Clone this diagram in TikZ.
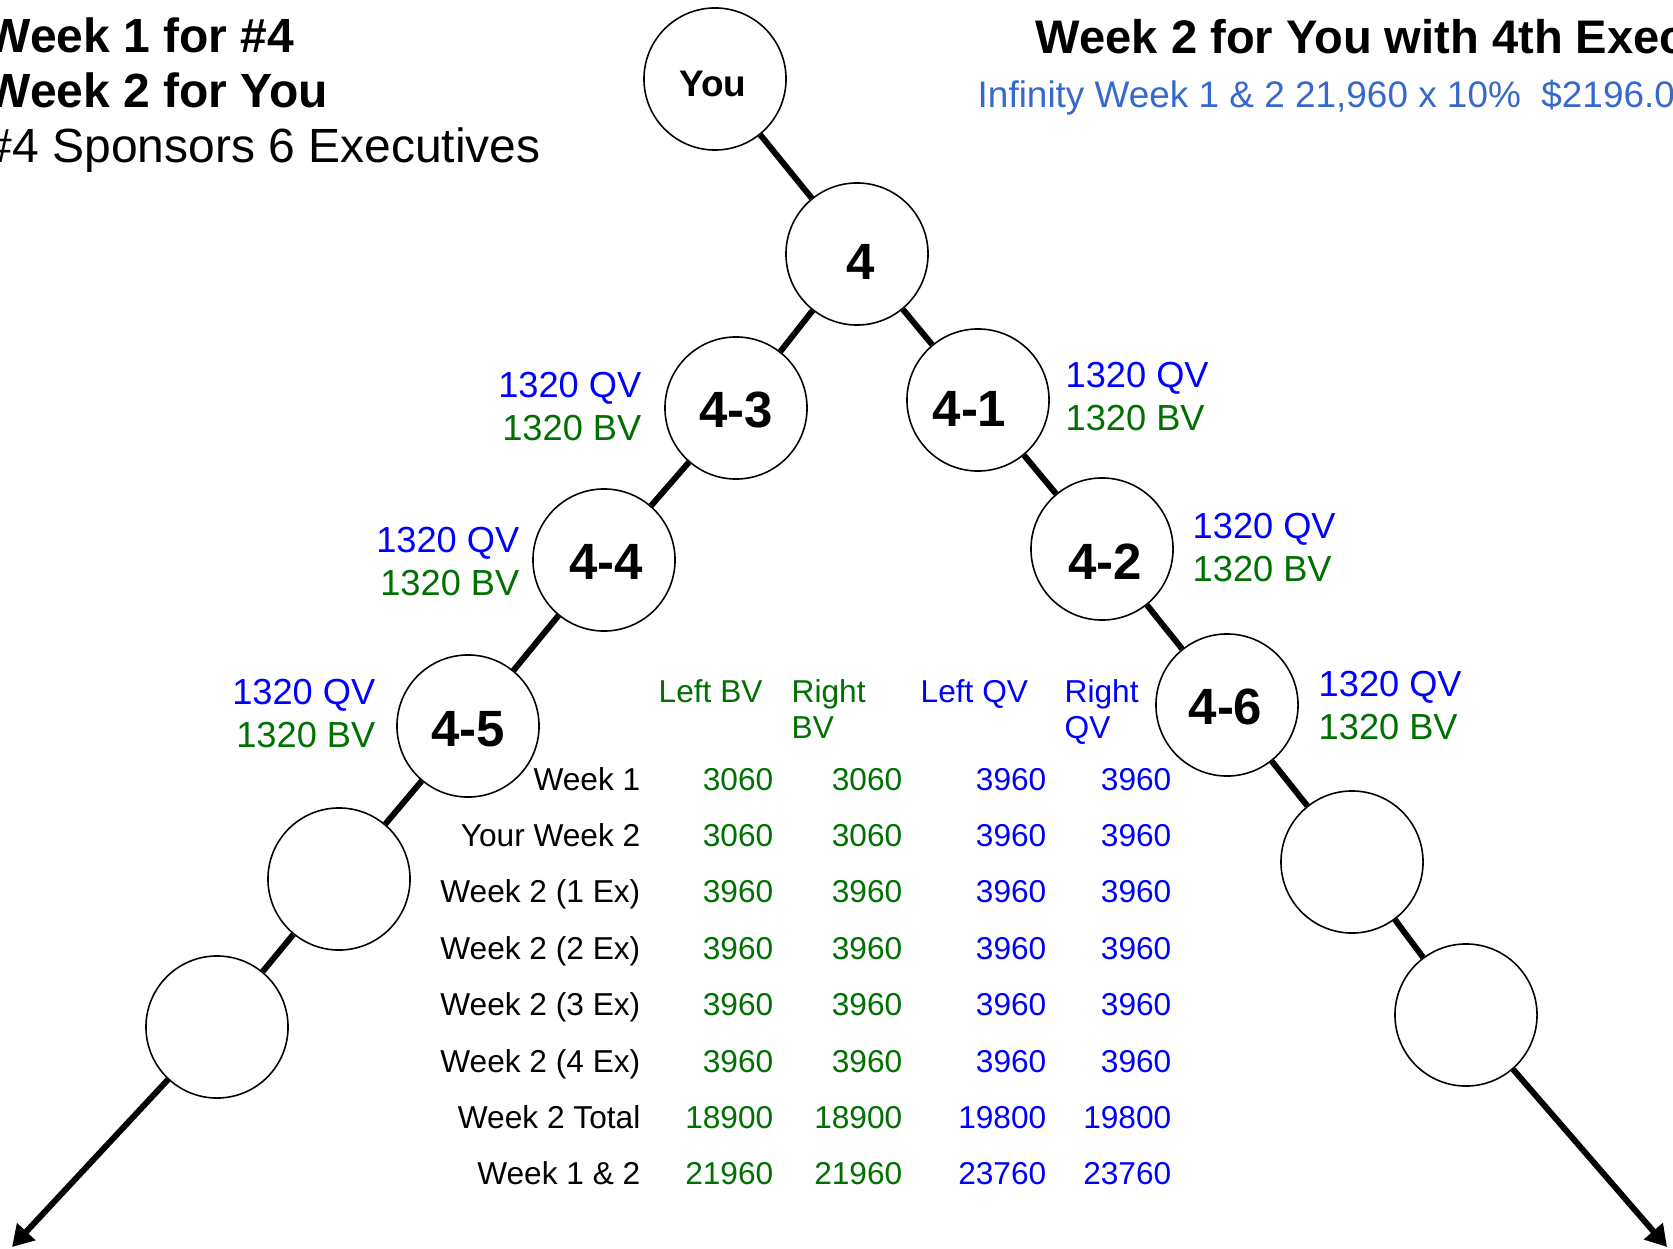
\documentclass[tikz,border=0pt]{standalone}
\usepackage{fontspec}
\setmainfont{Liberation Sans}
\usetikzlibrary{arrows.meta}
\definecolor{qvblue}{RGB}{0,0,255}
\definecolor{bvgreen}{RGB}{0,112,0}
\definecolor{infblue}{RGB}{55,105,205}
\newcommand{\fs}[1]{\fontsize{#1}{#1}\selectfont}

\begin{document}
\begin{tikzpicture}[x=0.01cm,y=-0.01cm,
        member/.style={circle,draw,line width=0.45pt,minimum size=1.42cm,inner sep=0pt},
        tag/.style={inner sep=0pt,font=\bfseries\fs{14.5}},
        tagged/.style n args={3}{member,label={[tag,xshift=#1,yshift=#2]center:#3}},
        link/.style={line width=1.7pt},
        txt/.style={inner sep=0pt,font=\fontsize{9}{10.2}\selectfont},
        vol/.style={inner sep=0pt,font=\fs{10.3}},
        head/.style={inner sep=0pt,anchor=base west,font=\bfseries\fs{13.65}}]

            \fill[white] (0,0) rectangle (1673,1249);
            \useasboundingbox (0,0) rectangle (1673,1249);
            \clip (0,0) rectangle (1673,1249);

            \node[head] (h1) at (-15,53) {Week 1 for \#4};
            \node[head] (h2) at (-15,108) {Week 2 for You};
            \node[head,font=\fs{13.65}] (h3) at (-15,163) {\#4 Sponsors 6 Executives};
            \node[head,font=\bfseries\fs{13.4}] (h4) at (1035,54) {Week 2 for You with 4th Executive};
            \node[head,font=\fs{10.5},text=infblue] (inf) at (977,108) {Infinity Week 1 \& 2 21,960 x 10\%\ \ \$2196.00};

            \node[member,label={[tag,font=\bfseries\fs{10.5},xshift=-0.02cm,yshift=-0.05cm]center:You}] (you) at (715,79) {};
            \node[tagged={0.04cm}{-0.075cm}{4}] (n4) at (857,254) {};
            \node[tagged={0cm}{-0.02cm}{4-3}] (n43) at (736,408) {};
            \node[tagged={-0.085cm}{-0.085cm}{4-1}] (n41) at (978,400) {};
            \node[tagged={0.02cm}{-0.02cm}{4-4}] (n44) at (604,560) {};
            \node[tagged={0.03cm}{-0.13cm}{4-2}] (n42) at (1102,549) {};
            \node[tagged={0cm}{-0.03cm}{4-5}] (n45) at (468,726) {};
            \node[tagged={-0.015cm}{-0.02cm}{4-6}] (n46) at (1227,705) {};
            \node[member] (l1) at (339,879) {};
            \node[member] (l2) at (217,1027) {};
            \node[member] (r1) at (1352,862) {};
            \node[member] (r2) at (1466,1015) {};
            \coordinate (lend) at (12,1247);
            \coordinate (rend) at (1667,1247);

            \foreach \a/\b in {you/n4,n4/n43,n43/n44,n44/n45,n45/l1,l1/l2,n4/n41,n41/n42,n42/n46,n46/r1,r1/r2}
                \draw[link] (\a) -- (\b);
            \draw[link,-{Triangle[length=0.21cm,width=0.24cm]}] (l2) -- (lend);
            \draw[link,-{Triangle[length=0.21cm,width=0.24cm]}] (r2) -- (rend);

            \foreach \x/\y/\s/\n in {642/398/east/a,520/552/east/b,376/704/east/c,1065/387/west/d,1192/538/west/e,1318/696/west/f}{
                \node[vol,text=qvblue,anchor=base \s] (qv\n) at (\x,\y) {1320 QV};
                \node[vol,text=bvgreen,anchor=base \s] (bv\n) at (\x,\y+43) {1320 BV};
            }

            \node[txt,text=bvgreen,anchor=base west] (hlbv) at (658,702) {Left BV};
            \node[txt,text=bvgreen,anchor=base west,align=left] (hrbv) at (791,738) {Right\\BV};
            \node[txt,text=qvblue,anchor=base west] (hlqv) at (920,702) {Left QV};
            \node[txt,text=qvblue,anchor=base west,align=left] (hrqv) at (1064,738) {Right\\QV};

            \foreach \lab/\ca/\cb/\cc/\cd [count=\i from 0] in {Week 1/3060/3060/3960/3960,Your Week 2/3060/3060/3960/3960,Week 2 (1 Ex)/3960/3960/3960/3960,Week 2 (2 Ex)/3960/3960/3960/3960,Week 2 (3 Ex)/3960/3960/3960/3960,Week 2 (4 Ex)/3960/3960/3960/3960,Week 2 Total/18900/18900/19800/19800,Week 1 \& 2/21960/21960/23760/23760}{
                \node[txt,anchor=base east] (row\i) at (641,790+56.4*\i) {\lab};
                \node[txt,text=bvgreen,anchor=base east] (lb\i) at (774,790+56.4*\i) {\ca};
                \node[txt,text=bvgreen,anchor=base east] (rb\i) at (903,790+56.4*\i) {\cb};
                \node[txt,text=qvblue,anchor=base east] (lq\i) at (1047,790+56.4*\i) {\cc};
                \node[txt,text=qvblue,anchor=base east] (rq\i) at (1172,790+56.4*\i) {\cd};
            }
        \end{tikzpicture}
\end{document}
